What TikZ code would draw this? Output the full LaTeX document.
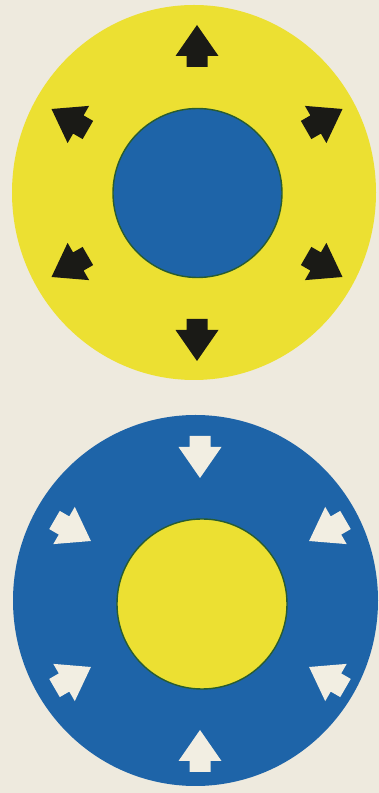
\documentclass[tikz,border=0pt]{standalone}
\usepackage{tikz}
\usetikzlibrary{calc}
\definecolor{paper}{RGB}{238,234,222}
\definecolor{sunyellow}{RGB}{236,224,50}
\definecolor{seablue}{RGB}{30,100,168}
\definecolor{rimgreen}{RGB}{40,92,48}
\definecolor{inkblack}{RGB}{26,26,22}
\definecolor{chalk}{RGB}{242,238,226}
\tikzset{
  fatarrow/.pic={
    \fill[pic actions] (-21,-10.5) -- (-10,-10.5) -- (-10,-21.5) -- (21,0) -- (-10,21.5) -- (-10,10.5) -- (-21,10.5) -- cycle;
  },
  rim/.style={draw=rimgreen, line width=1.4pt}
}
\begin{document}
\begin{tikzpicture}[x=1pt,y=1pt]
\useasboundingbox (0,0) rectangle (379,793);
\fill[paper] (0,0) rectangle (379,793);
% top picture: yellow disc, blue core, outward black arrows
\fill[sunyellow] (194,600.5) ellipse [x radius=182, y radius=187.5];
\filldraw[fill=seablue, rim] (197.5,600) circle [radius=84.5];
\foreach \a in {90,150,210,270,330,30}{
  \pic[fill=inkblack, rotate=\a] at ($(197,600)+(\a:147)$) {fatarrow};
}
% bottom picture: blue disc, yellow core, inward white arrows
\fill[seablue] (195.5,192.5) ellipse [x radius=182.5, y radius=185.5];
\filldraw[fill=sunyellow, rim] (202,189) circle [radius=85];
\foreach \a in {90,150,210,270,330,30}{
  \pic[fill=chalk, rotate=\a+180] at ($(200,189)+(\a:147)$) {fatarrow};
}
\end{tikzpicture}
\end{document}
